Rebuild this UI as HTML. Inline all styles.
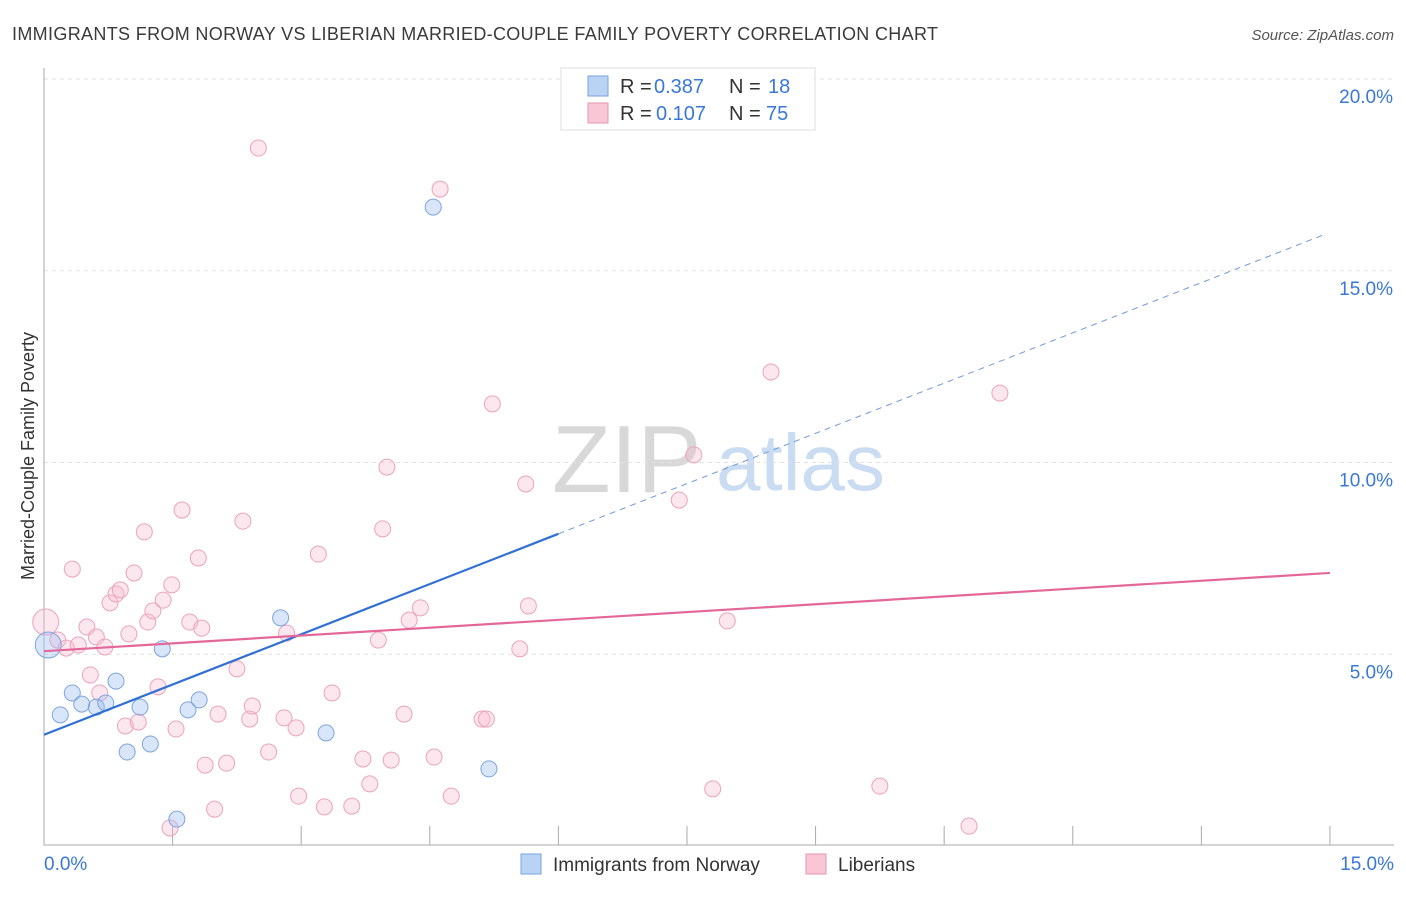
<!DOCTYPE html>
<html><head><meta charset="utf-8"><style>
body{margin:0;background:#fff;font-family:"Liberation Sans",sans-serif}
svg text{font-family:"Liberation Sans",sans-serif}
</style></head><body>
<svg id="c" width="1406" height="892">
<text x="12" y="40" font-size="18" fill="#3a3a3a" textLength="926" lengthAdjust="spacing">IMMIGRANTS FROM NORWAY VS LIBERIAN MARRIED-COUPLE FAMILY POVERTY CORRELATION CHART</text>
<text x="1394" y="40" font-size="15" fill="#555" text-anchor="end" font-style="italic">Source: ZipAtlas.com</text>
<text x="552" y="492" font-size="96" fill="#d8d8d8" font-family="Liberation Serif">ZIP</text>
<text x="716" y="490" font-size="80" fill="#c9dcf2">atlas</text>
<g id="grid"></g><g id="marks"></g>
<text transform="translate(34,456) rotate(-90)" font-size="18" fill="#333" text-anchor="middle">Married-Couple Family Poverty</text>
<g>
<rect x="561" y="68" width="254" height="62" fill="#fff" stroke="#ddd"/>
<rect x="588" y="76" width="20" height="20" fill="#b9d3f5" stroke="#7aa3e0"/>
<rect x="588" y="103" width="20" height="20" fill="#f9c6d6" stroke="#e896b0"/>
<text x="620" y="93" font-size="20" fill="#333">R =</text>
<text x="654" y="93" font-size="20" fill="#3a78d8">0.387</text>
<text x="729" y="93" font-size="20" fill="#333">N =</text>
<text x="768" y="93" font-size="20" fill="#3a78d8">18</text>
<text x="620" y="120" font-size="20" fill="#333">R =</text>
<text x="656" y="120" font-size="20" fill="#3a78d8">0.107</text>
<text x="729" y="120" font-size="20" fill="#333">N =</text>
<text x="766" y="120" font-size="20" fill="#3a78d8">75</text>
</g>
<g>
<rect x="521" y="854" width="20" height="20" fill="#b9d3f5" stroke="#7aa3e0"/>
<text x="553" y="871" font-size="19" fill="#333">Immigrants from Norway</text>
<rect x="806" y="854" width="20" height="20" fill="#f9c6d6" stroke="#e896b0"/>
<text x="838" y="871" font-size="19" fill="#333">Liberians</text>
</g>
</svg>
<script>
const blueX=[.05,.19,.33,.44,.61,.72,.84,.97,1.12,1.24,1.38,1.55,1.68,1.81,2.76,3.29,4.54,5.19];
const blueY=[5.24,3.42,3.99,3.70,3.62,3.73,4.30,2.45,3.62,2.66,5.14,0.70,3.55,3.81,5.95,2.95,16.66,2.01];
const pinkX=[.02,.16,.26,.33,.40,.50,.54,.61,.65,.71,.77,.84,.89,.95,.99,1.05,1.10,1.17,1.21,1.27,1.33,1.39,1.47,1.49,1.54,1.61,1.70,1.80,1.84,1.88,1.99,2.03,2.13,2.25,2.32,2.40,2.43,2.50,2.62,2.80,2.83,2.94,2.97,3.20,3.27,3.36,3.59,3.72,3.80,3.90,3.95,4.00,4.05,4.20,4.26,4.39,4.55,4.62,4.75,5.11,5.16,5.23,5.55,5.62,5.65,7.41,7.58,7.80,7.97,8.48,9.75,10.79,11.15];
const pinkY=[5.84,5.37,5.16,7.22,5.24,5.71,4.46,5.45,3.99,5.19,6.34,6.57,6.68,3.13,5.53,7.12,3.23,8.19,5.84,6.13,4.15,6.41,0.47,6.81,3.05,8.76,5.84,7.51,5.68,2.11,0.96,3.44,2.16,4.62,8.47,3.31,3.65,18.2,2.45,3.34,5.55,3.08,1.30,7.61,1.02,3.99,1.04,2.27,1.62,5.37,8.27,9.88,2.24,3.44,5.89,6.21,2.32,17.13,1.30,3.31,3.31,11.53,5.14,9.44,6.26,9.02,10.2,1.49,5.87,12.36,1.56,0.52,11.81];
const blueTrend=[2.9,16.0];
const pinkTrend=[5.08,7.12];
const yTicks=[5,10,15,20];
const xTicks=[0,1.5,3,4.5,6,7.5,9,10.5,12,13.5,15];
const X=v=>44+85.73*v, Y=v=>846-38.35*v;
const NS="http://www.w3.org/2000/svg";
function mk(tag,at,parent){const e=document.createElementNS(NS,tag);for(const k in at)e.setAttribute(k,at[k]);document.getElementById(parent).appendChild(e);return e;}
yTicks.forEach(t=>{
 const l=mk('line',{x1:44,x2:1394,y1:Y(t),y2:Y(t),stroke:'#e2e2e2','stroke-dasharray':'4,4'},'grid');
 
 
 const tx=mk('text',{x:1393,y:Y(t)+24,'font-size':19,fill:'#3a78d8','text-anchor':'end'},'grid');
 tx.textContent=t.toFixed(1)+'%';
 
 
});
const ax=mk('path',{d:'M44 68V845H1394',stroke:'#aaa',fill:'none'},'grid');


xTicks.forEach(t=>{
 const l=mk('line',{x1:X(t),x2:X(t),y1:826,y2:845,stroke:'#aaa'},'grid');
 
 
});
[[0,'start',44],[15,'end',1394]].forEach(([v,a,px])=>{
 const tx=mk('text',{x:px,y:870,'font-size':19,fill:'#3a78d8','text-anchor':a},'grid');
 tx.textContent=v.toFixed(1)+'%';
 
 
});
function dots(xs,ys,fill,stroke,name){
 xs.forEach((x,i)=>{
  const c=mk('circle',{cx:X(x),cy:Y(ys[i]),r:i==0?13:8,fill:fill,stroke:stroke,'stroke-width':1},'marks');
  
  
 });
}
dots(pinkX,pinkY,'rgba(248,185,205,0.35)','#eba3bb','liberians-point');
dots(blueX,blueY,'rgba(160,190,240,0.4)','#7ea5df','norway-point');
const bx=6.0, by=blueTrend[0]+(blueTrend[1]-blueTrend[0])*bx/15;
const b1=mk('line',{x1:X(0),y1:Y(blueTrend[0]),x2:X(bx),y2:Y(by),stroke:'#2f6fd6','stroke-width':2.2},'marks');


const b2=mk('line',{x1:X(bx),y1:Y(by),x2:X(14.95),y2:Y(blueTrend[0]+(blueTrend[1]-blueTrend[0])*14.95/15),stroke:'#6f9ad8','stroke-width':1,'stroke-dasharray':'6,5'},'marks');


const p1=mk('line',{x1:X(0),y1:Y(pinkTrend[0]),x2:X(15),y2:Y(pinkTrend[1]),stroke:'#e4679a','stroke-width':2.2},'marks');


</script>
</body></html>
